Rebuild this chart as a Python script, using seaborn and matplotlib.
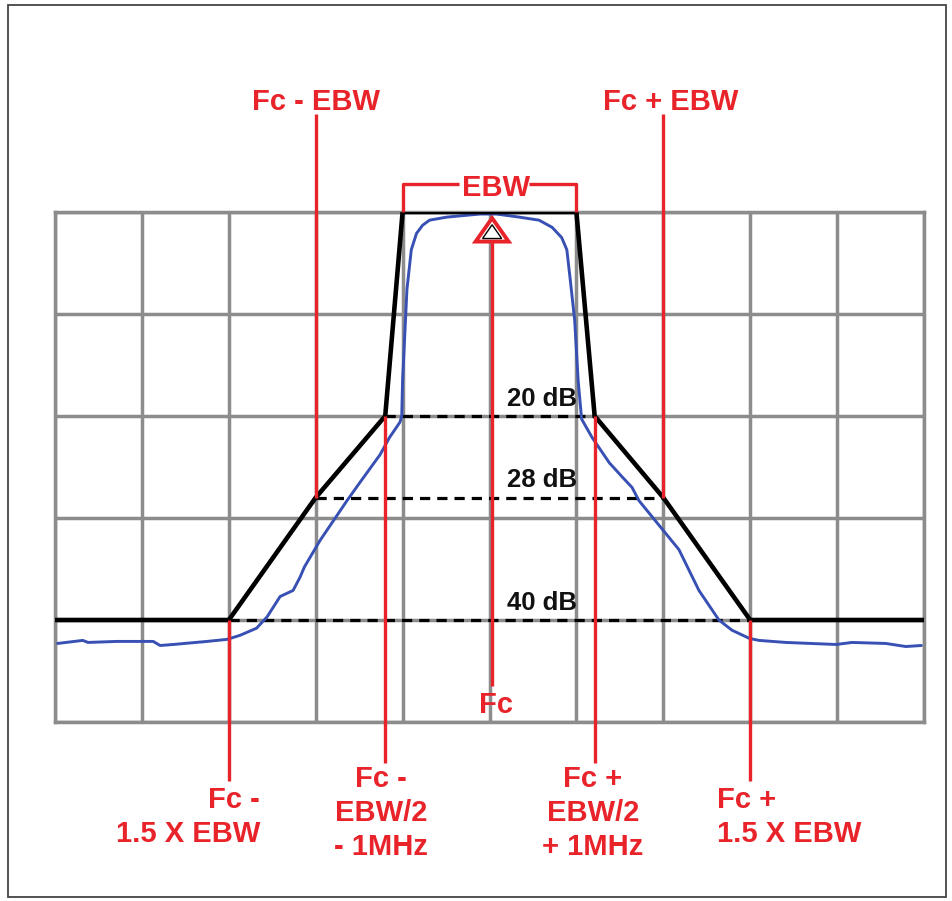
import matplotlib
matplotlib.use("Agg")
import matplotlib.pyplot as plt
import seaborn as sns
import numpy as np
import pandas as pd
from matplotlib.patches import Polygon, Rectangle

# emission mask (x in grid divisions from Fc, y in dB)
mask_x = [-5, -3, -2, -1.2, -1, 1, 1.21, 2, 3, 5]
mask_db = [-40, -40, -28, -20, 0, 0, -20, -28, -40, -40]

spec_x = [-4.97, -4.68, -4.62, -4.29, -3.87, -3.79, -3.64, -3.25, -3.02, -2.87,
          -2.68, -2.56, -2.41, -2.26, -2.18, -2.13, -1.95, -1.64, -1.49, -1.26,
          -1.15, -1.03, -1.01, -1.00, -0.95, -0.90, -0.84, -0.77, -0.69, -0.49,
          -0.11, 0.08, 0.34, 0.57, 0.72, 0.83, 0.89, 0.93, 0.98, 1.02,
          1.06, 1.18, 1.38, 1.53, 1.64, 1.72, 1.95, 2.18, 2.41, 2.64,
          2.79, 2.99, 3.10, 3.41, 3.99, 4.17, 4.56, 4.79, 4.97]
spec_db = [-42.3, -42.0, -42.2, -42.1, -42.1, -42.5, -42.4, -42.1, -41.9, -41.5,
           -40.8, -39.7, -37.7, -37.1, -35.8, -34.8, -32.2, -28.3, -26.5, -23.8,
           -22.1, -20.6, -20.0, -16.5, -7.6, -3.7, -2.1, -1.3, -0.8, -0.5,
           -0.2, -0.2, -0.5, -0.8, -1.5, -2.5, -3.7, -6.7, -10.6, -16.5,
           -20.3, -22.1, -24.6, -26.0, -27.0, -28.3, -30.7, -33.1, -37.1, -40.0,
           -41.0, -41.8, -42.0, -42.2, -42.4, -42.2, -42.3, -42.6, -42.5]

# reference levels
levels = [20, 28, 40]
level_left = [-1.2, -2, -3]
level_right = [1.21, 2, 3]

RED = '#e8232a'
GRID = '#8c8c8c'

sns.set_style("white")
plt.rcParams['font.family'] = ['Liberation Sans', 'DejaVu Sans']

fig = plt.figure(figsize=(9.52, 9.01), dpi=100)
ax = fig.add_axes([55 / 952, 179 / 901, 869 / 952, 510 / 901])
ax.set_xlim(-5, 5)
ax.set_ylim(-50, 0)
ax.set_xticks(np.arange(-5, 6))
ax.set_yticks(np.arange(-50, 1, 10))
ax.grid(True, color=GRID, lw=2.5)
ax.tick_params(length=0, labelbottom=False, labelleft=False)
for s in ax.spines.values():
    s.set_color(GRID)
    s.set_linewidth(2.5)

# dashed level lines + labels
for lv, xl, xr in zip(levels, level_left, level_right):
    ax.plot([xl, xr], [-lv, -lv], color='black', lw=2.3, ls=(0, (3.2, 2.2)), zorder=3)
    ax.text(0.6, -lv + 1.0, f"{lv} dB", ha='center', va='baseline',
            fontsize=18.5, fontweight='bold', color='#111111', zorder=6)

spec = pd.DataFrame({'x': spec_x, 'db': spec_db})
sns.lineplot(data=spec, x='x', y='db', sort=False, color='#3850b4', lw=2.1, ax=ax, zorder=4)
mask = pd.DataFrame({'x': mask_x, 'db': mask_db})
sns.lineplot(data=mask, x='x', y='db', sort=False, color='black', lw=3.3, ax=ax, zorder=5)
ax.set_xlabel('')
ax.set_ylabel('')

# red marker lines
kw = dict(color=RED, lw=2.4, zorder=7, clip_on=False, solid_capstyle='butt')
ax.plot([-2, -2], [9.6, -28], **kw)
ax.plot([2, 2], [9.6, -28], **kw)
ax.plot([-3, -3], [-40, -55.8], **kw)
ax.plot([3, 3], [-40, -55.8], **kw)
ax.plot([-1.2, -1.2], [-20, -54.0], **kw)
ax.plot([1.21, 1.21], [-20, -54.0], **kw)
ax.plot([0.03, 0.03], [-2.9, -46.5], **kw)

# EBW bracket
ax.plot([-1, -1, -0.35], [0, 2.7, 2.7], **kw)
ax.plot([0.45, 1, 1], [2.7, 2.7, 0], **kw)

# Fc marker triangle
tri = Polygon([[0.03, -0.6], [-0.16, -2.9], [0.22, -2.9]], closed=True,
              facecolor='white', edgecolor=RED, lw=2.8, zorder=8, clip_on=False)
ax.add_patch(tri)
tri_in = Polygon([[0.03, -1.25], [-0.08, -2.6], [0.14, -2.6]], closed=True,
                 facecolor='white', edgecolor='black', lw=1.0, zorder=9, clip_on=False)
ax.add_patch(tri_in)

tk = dict(color=RED, fontsize=21, fontweight='bold', va='baseline', zorder=10)
ax.text(-2.0, 10.0, "Fc - EBW", ha='center', **tk)
ax.text(2.08, 10.0, "Fc + EBW", ha='center', **tk)
ax.text(0.07, 1.6, "EBW", ha='center', **tk)
ax.text(0.08, -49.1, "Fc", ha='center', **tk)

ax.text(-2.64, -58.4, "Fc -", ha='right', **tk)
ax.text(-2.64, -61.8, "1.5 X EBW", ha='right', **tk)
for i, line in enumerate(["Fc -", "EBW/2", "- 1MHz"]):
    ax.text(-1.25, -56.4 - 3.3 * i, line, ha='center', **tk)
for i, line in enumerate(["Fc +", "EBW/2", "+ 1MHz"]):
    ax.text(1.19, -56.4 - 3.3 * i, line, ha='center', **tk)
ax.text(2.62, -58.4, "Fc +", ha='left', **tk)
ax.text(2.62, -61.8, "1.5 X EBW", ha='left', **tk)

# outer frame
fig.patches.append(Rectangle((8 / 952, 4 / 901), 938 / 952, 892 / 901,
                             transform=fig.transFigure, fill=False,
                             edgecolor='#444444', lw=1.3))

fig.savefig("out.png", dpi=100, facecolor='white')
